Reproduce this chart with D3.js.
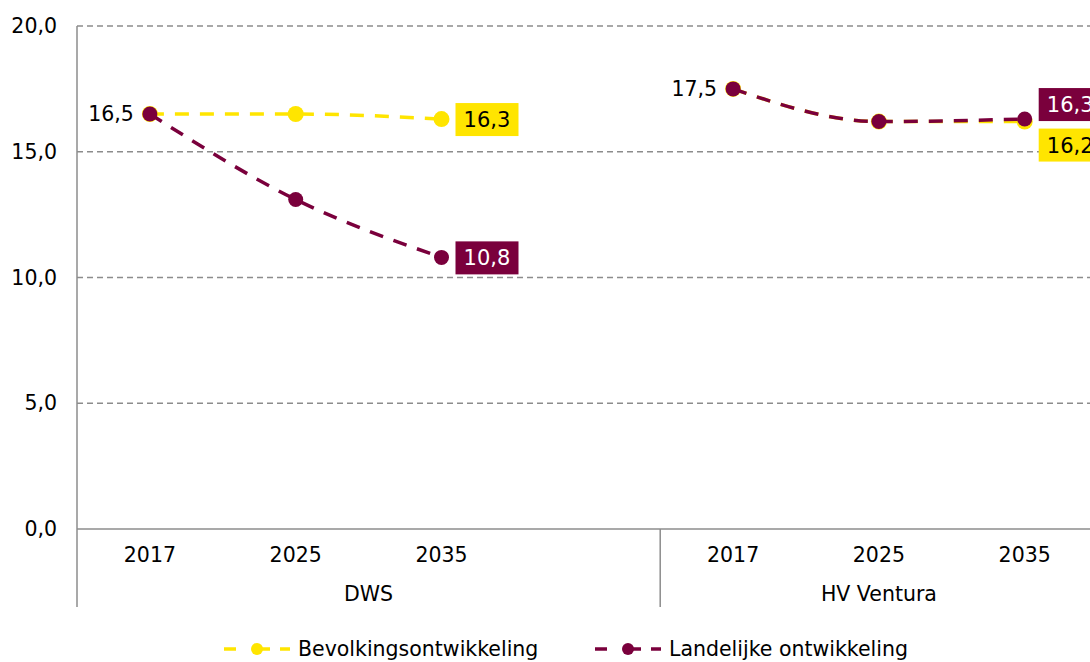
<!DOCTYPE html>
<html>
<head>
<meta charset="utf-8">
<script src="https://cdn.jsdelivr.net/npm/d3@7"></script>
<style>
  body { margin: 0; background: #fff; }
  text { font-family: "DejaVu Sans", sans-serif; fill: #000; }
</style>
</head>
<body>
<div id="chart"></div>
<script>
// groups and the years inside each group (DWS has one empty slot at its end)
const groups = ["DWS", "HV Ventura"]
const years = ["2017", "2025", "2035"]
const yTicks = [0, 5, 10, 15, 20]

const bevolking = [[16.5, 16.5, 16.3], [17.5, 16.2, 16.2]]
const landelijk = [[16.5, 13.1, 10.8], [17.5, 16.2, 16.3]]

const seriesNames = ["Bevolkingsontwikkeling", "Landelijke ontwikkeling"]
const colors = ["#ffe500", "#7a003c"]

const width = 1090
const height = 662
const margin = {left: 77, top: 26}
const plotBottom = 529
const slotWidth = 145.8
const fontSize = "20.5px"

let svg = d3.select("#chart")
            .append("svg")
            .attr("width", width)
            .attr("height", height)

// category keys: group|year, with an empty slot closing the first group
let slots = []
groups.forEach(function(g, i) {
  years.forEach(function(y) { slots.push(g + "|" + y) })
  if (i == 0) slots.push(g + "|")
})

let xScale = d3.scaleBand()
               .domain(slots)
               .range([margin.left, margin.left + slots.length * slotWidth])

let yScale = d3.scaleLinear()
               .domain([0, 20])
               .range([plotBottom, margin.top])

let fmt = d => d3.format(".1f")(d).replace(".", ",")

// gridlines
svg.selectAll(".grid")
   .data(yTicks.filter(d => d > 0))
   .enter().append("line")
   .attr("x1", margin.left)
   .attr("x2", width)
   .attr("y1", d => yScale(d))
   .attr("y2", d => yScale(d))
   .attr("stroke", "#8c8c8c")
   .attr("stroke-width", 1.3)
   .attr("stroke-dasharray", "6,4")

// y axis
let yAxis = d3.axisLeft(yScale)
              .tickValues(yTicks)
              .tickSize(0)
              .tickPadding(20)
              .tickFormat(fmt)
svg.append("g")
   .attr("transform", "translate(" + margin.left + ",0)")
   .call(yAxis)
   .call(g => g.select(".domain").remove())
   .selectAll("text")
   .style("font-size", fontSize)
   .attr("font-family", null)

// axis lines
svg.append("line")
   .attr("x1", margin.left).attr("x2", margin.left)
   .attr("y1", margin.top).attr("y2", 607)
   .attr("stroke", "#8c8c8c").attr("stroke-width", 1.5)
svg.append("line")
   .attr("x1", margin.left).attr("x2", width)
   .attr("y1", plotBottom).attr("y2", plotBottom)
   .attr("stroke", "#8c8c8c").attr("stroke-width", 1.5)

// group separators and labels
groups.forEach(function(g, i) {
  let x0 = xScale(g + "|" + years[0])
  let x1 = (i == 0 ? xScale(g + "|") : xScale(g + "|" + years[2])) + xScale.bandwidth()
  if (i > 0) {
    svg.append("line")
       .attr("x1", x0).attr("x2", x0)
       .attr("y1", plotBottom).attr("y2", 607)
       .attr("stroke", "#8c8c8c").attr("stroke-width", 1.5)
  }
  svg.append("text")
     .attr("x", (x0 + x1) / 2)
     .attr("y", 601)
     .attr("text-anchor", "middle")
     .style("font-size", fontSize)
     .text(g)
  years.forEach(function(y) {
    svg.append("text")
       .attr("x", xScale(g + "|" + y) + xScale.bandwidth() / 2)
       .attr("y", 562)
       .attr("text-anchor", "middle")
       .style("font-size", fontSize)
       .text(y)
  })
})

let cx = (g, y) => xScale(g + "|" + y) + xScale.bandwidth() / 2

let line = d3.line()
             .x(d => cx(d.g, d.y))
             .y(d => yScale(d.v))
             .curve(d3.curveMonotoneX)

let allSeries = [bevolking, landelijk]

allSeries.forEach(function(s, si) {
  groups.forEach(function(g, gi) {
    let pts = s[gi].map((v, i) => ({g: g, y: years[i], v: v}))
    svg.append("path")
       .attr("d", line(pts))
       .attr("fill", "none")
       .attr("stroke", colors[si])
       .attr("stroke-width", 3.5)
       .attr("stroke-dasharray", "14,11")
    svg.selectAll(".dot" + si + gi)
       .data(pts)
       .enter().append("circle")
       .attr("cx", d => cx(d.g, d.y))
       .attr("cy", d => yScale(d.v))
       .attr("r", si == 0 ? 8 : 7.5)
       .attr("fill", colors[si])
  })
})

// first value labels
groups.forEach(function(g, gi) {
  svg.append("text")
     .attr("x", cx(g, years[0]) - 16)
     .attr("y", yScale(landelijk[gi][0]) + 7)
     .attr("text-anchor", "end")
     .style("font-size", fontSize)
     .text(fmt(landelijk[gi][0]))
})

// end value labels in boxes
let endLabels = [
  {si: 0, gi: 0, dy: 0},
  {si: 1, gi: 0, dy: 0},
  {si: 1, gi: 1, dy: -15},
  {si: 0, gi: 1, dy: 23}
]
endLabels.forEach(function(l) {
  let s = allSeries[l.si]
  let v = s[l.gi][2]
  let x = cx(groups[l.gi], years[2]) + 14
  let y = yScale(v) + l.dy
  svg.append("rect")
     .attr("x", x)
     .attr("y", y - 16)
     .attr("width", 63)
     .attr("height", 33)
     .attr("fill", colors[l.si])
  svg.append("text")
     .attr("x", x + 31.5)
     .attr("y", y + 8)
     .attr("text-anchor", "middle")
     .style("font-size", "21px")
     .style("fill", l.si == 1 ? "#fff" : "#000")
     .text(fmt(v))
})

// legend
let legendX = [222, 593]
seriesNames.forEach(function(name, i) {
  let lg = svg.append("g").attr("transform", "translate(" + legendX[i] + ",649)")
  lg.append("line")
    .attr("x1", 2).attr("x2", 70)
    .attr("stroke", colors[i])
    .attr("stroke-width", 3.5)
    .attr("stroke-dasharray", "12,22")
  lg.append("line")
    .attr("x1", 58).attr("x2", 68)
    .attr("stroke", colors[i])
    .attr("stroke-width", 3.5)
  lg.append("circle")
    .attr("cx", 35).attr("r", 6)
    .attr("fill", colors[i])
  lg.append("text")
    .attr("x", 76).attr("y", 7)
    .style("font-size", fontSize)
    .text(name)
})
</script>
</body>
</html>
